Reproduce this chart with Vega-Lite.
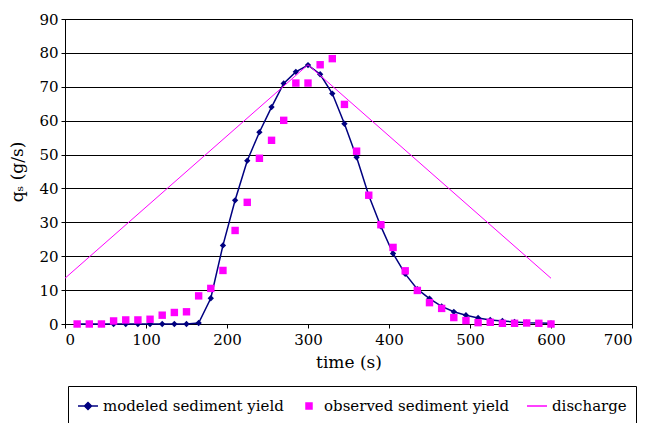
{
  "$schema": "https://vega.github.io/schema/vega-lite/v6.json",
  "width": 567,
  "height": 305,
  "autosize": "none",
  "padding": {"left": 65, "top": 19, "right": 15, "bottom": 99},
  "background": "white",
  "config": {
    "font": "DejaVu Serif",
    "view": {"stroke": "black", "strokeWidth": 1},
    "axis": {
      "labelFont": "DejaVu Serif",
      "titleFont": "DejaVu Serif",
      "domainColor": "black",
      "tickColor": "black",
      "tickSize": 4,
      "labelColor": "black",
      "labelFontSize": 15,
      "titleFontSize": 17,
      "titleFontWeight": "normal",
      "titleColor": "black",
      "gridColor": "black",
      "gridOpacity": 1,
      "gridWidth": 1
    },
    "legend": {
      "labelFont": "DejaVu Serif",
      "labelLimit": 400
    }
  },
  "datasets": {
    "modeled": [
      {"t": 15, "v": 0}, {"t": 30, "v": 0}, {"t": 45, "v": 0}, {"t": 60, "v": 0},
      {"t": 75, "v": 0}, {"t": 90, "v": 0}, {"t": 105, "v": 0}, {"t": 120, "v": 0},
      {"t": 135, "v": 0}, {"t": 150, "v": 0}, {"t": 165, "v": 0.3}, {"t": 180, "v": 7.6},
      {"t": 195, "v": 23.2}, {"t": 210, "v": 36.5}, {"t": 225, "v": 48.2}, {"t": 240, "v": 56.6},
      {"t": 255, "v": 64.0}, {"t": 270, "v": 71.0}, {"t": 285, "v": 74.4}, {"t": 300, "v": 76.4},
      {"t": 315, "v": 73.7}, {"t": 330, "v": 68.0}, {"t": 345, "v": 59.1}, {"t": 360, "v": 49.2},
      {"t": 375, "v": 37.9}, {"t": 390, "v": 28.8}, {"t": 405, "v": 20.8}, {"t": 420, "v": 14.8},
      {"t": 435, "v": 10.3}, {"t": 450, "v": 7.5}, {"t": 465, "v": 5.2}, {"t": 480, "v": 3.6},
      {"t": 495, "v": 2.6}, {"t": 510, "v": 1.8}, {"t": 525, "v": 1.2}, {"t": 540, "v": 0.9},
      {"t": 555, "v": 0.6}, {"t": 570, "v": 0.4}, {"t": 585, "v": 0.3}, {"t": 600, "v": 0.2}
    ],
    "observed": [
      {"t": 15, "v": 0}, {"t": 30, "v": 0}, {"t": 45, "v": 0}, {"t": 60, "v": 0.9},
      {"t": 75, "v": 1.2}, {"t": 90, "v": 1.2}, {"t": 105, "v": 1.4}, {"t": 120, "v": 2.6},
      {"t": 135, "v": 3.4}, {"t": 150, "v": 3.6}, {"t": 165, "v": 8.3}, {"t": 180, "v": 10.5},
      {"t": 195, "v": 15.8}, {"t": 210, "v": 27.6}, {"t": 225, "v": 35.9}, {"t": 240, "v": 48.9},
      {"t": 255, "v": 54.2}, {"t": 270, "v": 60.1}, {"t": 285, "v": 71.1}, {"t": 300, "v": 71.1},
      {"t": 315, "v": 76.5}, {"t": 330, "v": 78.3}, {"t": 345, "v": 64.8}, {"t": 360, "v": 51.0},
      {"t": 375, "v": 38.0}, {"t": 390, "v": 29.3}, {"t": 405, "v": 22.6}, {"t": 420, "v": 15.7},
      {"t": 435, "v": 9.9}, {"t": 450, "v": 6.3}, {"t": 465, "v": 4.6}, {"t": 480, "v": 1.9},
      {"t": 495, "v": 1.0}, {"t": 510, "v": 0.4}, {"t": 525, "v": 0.5}, {"t": 540, "v": 0.2},
      {"t": 555, "v": 0.2}, {"t": 570, "v": 0.3}, {"t": 585, "v": 0.2}, {"t": 600, "v": 0}
    ],
    "discharge": [
      {"t": 0, "v": 13.5}, {"t": 300, "v": 76.5}, {"t": 600, "v": 13.5}
    ]
  },
  "encoding": {
    "x": {
      "field": "t", "type": "quantitative",
      "scale": {"domain": [0, 700], "nice": false},
      "axis": {"values": [0, 100, 200, 300, 400, 500, 600, 700], "grid": false, "title": "time (s)", "labelPadding": 4, "titlePadding": 7}
    },
    "y": {
      "field": "v", "type": "quantitative",
      "scale": {"domain": [0, 90], "nice": false},
      "axis": {"values": [0, 10, 20, 30, 40, 50, 60, 70, 80, 90], "grid": true, "title": "qₛ (g/s)", "labelPadding": 3, "titlePadding": 12}
    }
  },
  "layer": [
    {
      "data": {"name": "modeled"},
      "transform": [{"calculate": "'modeled sediment yield'", "as": "series"}],
      "mark": {"type": "line", "strokeWidth": 1.5},
      "encoding": {
        "color": {
          "field": "series", "type": "nominal",
          "scale": {"domain": ["modeled sediment yield", "observed sediment yield", "discharge"], "range": ["#000080", "#ff00ff", "#ff00ff"]},
          "legend": {
            "title": null,
            "orient": "none",
            "legendX": 3,
            "legendY": 367,
            "direction": "horizontal",
            "strokeColor": "black",
            "padding": 9,
            "labelFontSize": 15,
            "labelColor": "black",
            "symbolSize": 400,
            "columnPadding": 14,
            "labelOffset": 4,
            "encode": {
              "symbols": {
                "update": {
                  "shape": {"signal": "datum.value == 'modeled sediment yield' ? 'M-1,0L1,0M0,-0.35L0.35,0L0,0.35L-0.35,0Z' : datum.value == 'observed sediment yield' ? 'M-0.3,-0.3L0.3,-0.3L0.3,0.3L-0.3,0.3Z' : 'M-1,0L1,0'"},
                  "stroke": {"signal": "datum.value == 'modeled sediment yield' ? '#000080' : '#ff00ff'"},
                  "fill": {"signal": "datum.value == 'modeled sediment yield' ? '#000080' : '#ff00ff'"},
                  "strokeWidth": {"value": 1.5},
                  "opacity": {"value": 1}
                }
              }
            }
          }
        }
      }
    },
    {
      "data": {"name": "modeled"},
      "transform": [{"calculate": "'modeled sediment yield'", "as": "series"}],
      "mark": {"type": "point", "shape": "diamond", "filled": true, "size": 40, "opacity": 1},
      "encoding": {"color": {"field": "series", "type": "nominal"}}
    },
    {
      "data": {"name": "observed"},
      "transform": [{"calculate": "'observed sediment yield'", "as": "series"}],
      "mark": {"type": "point", "shape": "square", "filled": true, "size": 55, "opacity": 1},
      "encoding": {"color": {"field": "series", "type": "nominal"}}
    },
    {
      "data": {"name": "discharge"},
      "transform": [{"calculate": "'discharge'", "as": "series"}],
      "mark": {"type": "line", "strokeWidth": 1},
      "encoding": {"color": {"field": "series", "type": "nominal"}}
    }
  ]
}
